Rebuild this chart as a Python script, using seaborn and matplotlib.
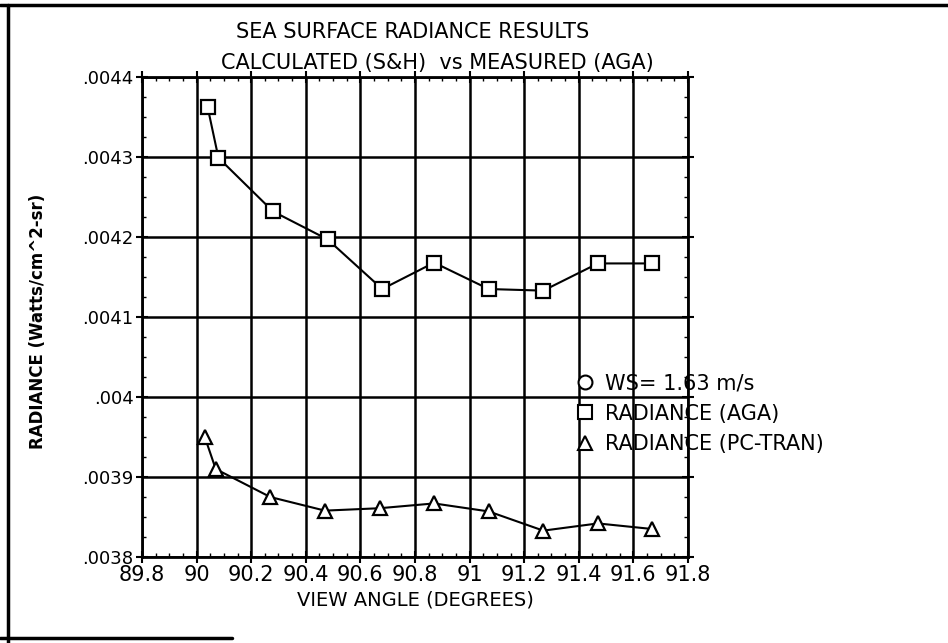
import matplotlib
matplotlib.use("Agg")
import matplotlib.pyplot as plt
import seaborn as sns
import pandas as pd
from matplotlib.lines import Line2D
from matplotlib.ticker import FixedLocator, AutoMinorLocator

# data
angle_aga = [90.04, 90.08, 90.28, 90.48, 90.68, 90.87, 91.07, 91.27, 91.47, 91.67]
rad_aga = [0.004363, 0.004299, 0.004232, 0.004197, 0.004135, 0.004168,
           0.004135, 0.004133, 0.004167, 0.004167]
angle_pc = [90.03, 90.07, 90.27, 90.47, 90.67, 90.87, 91.07, 91.27, 91.47, 91.67]
rad_pc = [0.003950, 0.003910, 0.003875, 0.003858, 0.003861, 0.003867,
          0.003857, 0.003833, 0.003842, 0.003835]

x_ticks = [89.8, 90.0, 90.2, 90.4, 90.6, 90.8, 91.0, 91.2, 91.4, 91.6, 91.8]
x_labels = ["89.8", "90", "90.2", "90.4", "90.6", "90.8", "91", "91.2", "91.4", "91.6", "91.8"]
y_ticks = [0.0038, 0.0039, 0.0040, 0.0041, 0.0042, 0.0043, 0.0044]
y_labels = [".0038", ".0039", ".004", ".0041", ".0042", ".0043", ".0044"]
legend_labels = ["WS= 1.63 m/s", "RADIANCE (AGA)", "RADIANCE (PC-TRAN)"]

sns.set_style("white")
plt.rcParams['font.family'] = ['DejaVu Sans']
plt.rcParams['text.color'] = 'black'
plt.rcParams['axes.labelcolor'] = 'black'
plt.rcParams['xtick.color'] = 'black'
plt.rcParams['ytick.color'] = 'black'

df_aga = pd.DataFrame({"angle": angle_aga, "radiance": rad_aga})
df_pc = pd.DataFrame({"angle": angle_pc, "radiance": rad_pc})

fig = plt.figure(figsize=(9.48, 6.43), dpi=100)
ax = fig.add_axes([0.1498, 0.1337, 0.5759, 0.7465])

line_kw = dict(color="black", linewidth=1.5, markerfacecolor="white",
               markeredgecolor="black", markeredgewidth=1.6, zorder=5)
sns.lineplot(data=df_aga, x="angle", y="radiance", ax=ax, marker="s",
             markersize=10, **line_kw)
sns.lineplot(data=df_pc, x="angle", y="radiance", ax=ax, marker="^",
             markersize=10, **line_kw)

ax.set_xlim(89.8, 91.8)
ax.set_ylim(0.0038, 0.0044)
ax.xaxis.set_major_locator(FixedLocator(x_ticks))
ax.set_xticklabels(x_labels, fontsize=15)
ax.yaxis.set_major_locator(FixedLocator(y_ticks))
ax.set_yticklabels(y_labels, fontsize=13)
ax.xaxis.set_minor_locator(AutoMinorLocator(4))
ax.yaxis.set_minor_locator(AutoMinorLocator(4))
ax.tick_params(which="major", direction="inout", length=8, width=1.5, color="black", pad=2)
ax.tick_params(which="minor", direction="in", length=3, width=1, color="black")
ax.tick_params(axis="both", which="both", bottom=True, left=True, top=True, right=True,
               labeltop=False, labelright=False)
ax.grid(True, which="major", color="black", linewidth=1.8)
for s in ax.spines.values():
    s.set_color("black")
    s.set_linewidth(2)

ax.set_xlabel("VIEW ANGLE (DEGREES)", fontsize=14, labelpad=4)
ax.set_ylabel("")
fig.text(0.040, 0.50, "RADIANCE (Watts/cm^2-sr)", rotation=90, fontsize=12,
         fontweight="bold", ha="center", va="center")

fig.text(0.435, 0.950, "SEA SURFACE RADIANCE RESULTS", fontsize=15, ha="center", va="center")
fig.text(0.461, 0.902, "CALCULATED (S&H)  vs MEASURED (AGA)", fontsize=15,
         ha="center", va="center")

handles = [
    Line2D([], [], linestyle="none", marker="o", markersize=10, markerfacecolor="white",
           markeredgecolor="black", markeredgewidth=1.5),
    Line2D([], [], linestyle="none", marker="s", markersize=10, markerfacecolor="white",
           markeredgecolor="black", markeredgewidth=1.5),
    Line2D([], [], linestyle="none", marker="^", markersize=10, markerfacecolor="white",
           markeredgecolor="black", markeredgewidth=1.5),
]
leg = ax.legend(handles, legend_labels, loc="upper left", bbox_to_anchor=(0.78, 0.40),
                frameon=False, fontsize=15, handlelength=0.8, handletextpad=0.6,
                labelspacing=0.5, borderaxespad=0)

# outer frame of the scanned page
fig.add_artist(Line2D([0.0, 1.0], [0.992, 0.992], color="black", linewidth=2.5))
fig.add_artist(Line2D([0.0084, 0.0084], [0.0, 0.992], color="black", linewidth=2.5))
fig.add_artist(Line2D([0.0, 0.245], [0.008, 0.008], color="black", linewidth=2.5))

fig.savefig("out.png", dpi=100)
